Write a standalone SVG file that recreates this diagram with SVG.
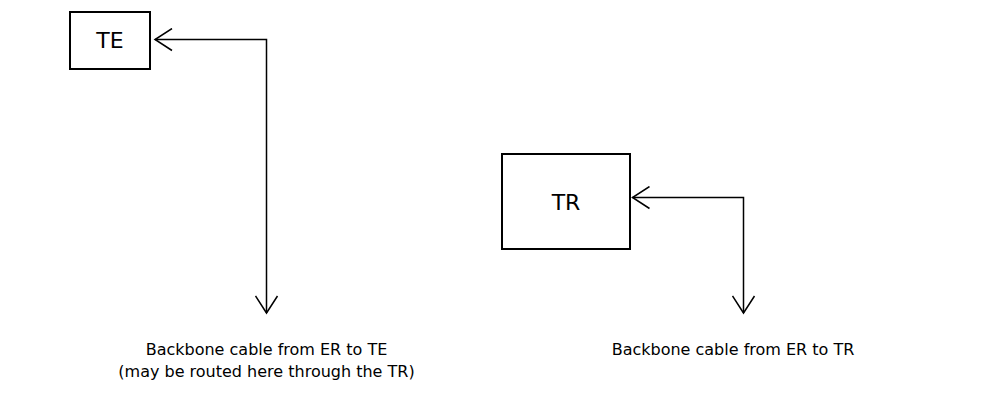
<svg xmlns="http://www.w3.org/2000/svg" width="988" height="395" viewBox="0 0 988 395">
<style>
.box{fill:#fff;stroke:#000;stroke-width:2}
.lbl{font-family:"DejaVu Sans","Verdana",sans-serif;font-size:16px;fill:#000}
.big{font-size:22px}
.wire{fill:none;stroke:#000;stroke-width:1.5}
</style>
<defs>
<marker id="open" viewBox="0 0 20 24" refX="18" refY="12" markerWidth="20" markerHeight="24" markerUnits="userSpaceOnUse" orient="auto-start-reverse">
<path d="M1,1 L18,12 L1,23" fill="none" stroke="#000" stroke-width="1.5"/>
</marker>
</defs>
<rect width="988" height="395" fill="#fff"/>
<g id="TE">
<rect class="box" x="70" y="12" width="80" height="57"/>
<text class="lbl big" x="110" y="48" text-anchor="middle">TE</text>
</g>
<g id="TR">
<rect class="box" x="502" y="154" width="128" height="95"/>
<text class="lbl big" x="566" y="210" text-anchor="middle">TR</text>
</g>
<g id="connectors">
<path class="wire" d="M155,39.5 H266.5 V313" marker-start="url(#open)" marker-end="url(#open)"/>
<path class="wire" d="M632.5,197.5 H743.5 V313" marker-start="url(#open)" marker-end="url(#open)"/>
</g>
<g id="label-te">
<text class="lbl" x="266.5" y="355" text-anchor="middle">Backbone cable from ER to TE</text>
<text class="lbl" x="266.5" y="377" text-anchor="middle">(may be routed here through the TR)</text>
</g>
<g id="label-tr">
<text class="lbl" x="733" y="355" text-anchor="middle">Backbone cable from ER to TR</text>
</g>
</svg>
